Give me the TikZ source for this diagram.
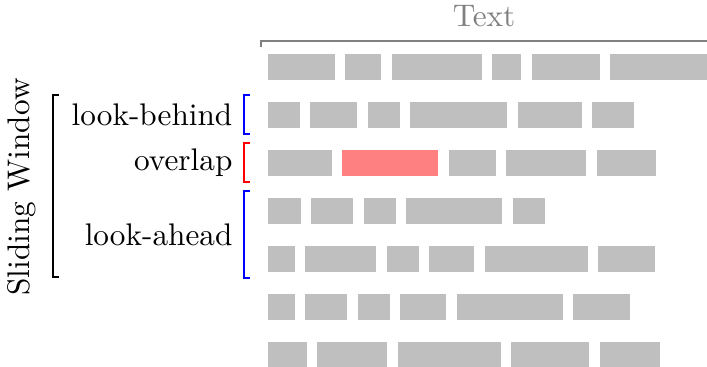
\documentclass[tikz,border=0pt]{standalone}
\usepackage{xcolor}
\usepackage{tikz}
\usetikzlibrary{positioning,calc}

\newlength\pxu
\setlength\pxu{0.32pt}
\definecolor{boxgray}{gray}{0.75}
\definecolor{hlred}{RGB}{255,128,128}

\begin{document}
\begin{tikzpicture}[x=1\pxu, y=-1\pxu,
    wbox/.style={rectangle, inner sep=0pt, outer sep=0pt, minimum height=26\pxu},
    lbl/.style={inner sep=0pt},
    node distance=10.4\pxu]
  \useasboundingbox (0,0) rectangle (707,367);
  % word boxes, one row per text line
  \foreach \row [count=\r] in {{67,36,90,29,68,97},{32,47,32,97,64,42},{64,96,47,80,59},
      {33,42,32,96,32},{27,71,32,45,103,57},{27,42,32,46,106,57},{39,70,103,78,60}} {
    \foreach \w [count=\c] in \row {
      \ifnum\r\c=32 \def\boxfill{hlred}\else\def\boxfill{boxgray}\fi
      \ifnum\c=1
        \node[wbox, fill=\boxfill, minimum width=\w\pxu, anchor=west] (r\r-\c) at (268, 19+48*\r) {};
      \else
        \pgfmathtruncatemacro\prv{\c-1}
        \node[wbox, fill=\boxfill, minimum width=\w\pxu, right=of r\r-\prv] (r\r-\c) {};
      \fi
    }
  }
  % text bracket
  \draw[gray] ([shift={(-7,-7)}]r1-1.north west) |- ([shift={(0,-13)}]r1-6.north east)
    coordinate[pos=0.75] (tmid);
  \node[lbl, gray, anchor=south] (txt) at ([yshift=4.2pt]tmid) {Text};
  % window parts
  \draw[blue] ([shift={(-18,-7)}]r2-1.north west) -- ++(-6,0) |- ([shift={(-18,6)}]r2-1.south west);
  \draw[red]  ([shift={(-18,-7)}]r3-1.north west) -- ++(-6,0) |- ([shift={(-18,6)}]r3-1.south west);
  \draw[blue] ([shift={(-18,-7)}]r4-1.north west) -- ++(-6,0) |- ([shift={(-18,6)}]r5-1.south west);
  \node[lbl, anchor=east] (lbehind) at ([xshift=-35\pxu]r2-1.west) {look-behind};
  \node[lbl, anchor=east] (lover) at ([xshift=-35\pxu]r3-1.west) {overlap};
  \node[lbl, anchor=east] (lahead) at ($(r4-1.west)!0.5!(r5-1.west)+(-35,0)$) {look-ahead};
  % whole window
  \draw ([shift={(-209,-7)}]r2-1.north west) -- ++(-6,0) |- ([shift={(-209,5)}]r5-1.south west);
  \node[lbl, rotate=90, anchor=south] (window) at ($(r2-1.north west)!0.5!(r5-1.south west)+(-231,0)$) {Sliding Window};
\end{tikzpicture}
\end{document}
